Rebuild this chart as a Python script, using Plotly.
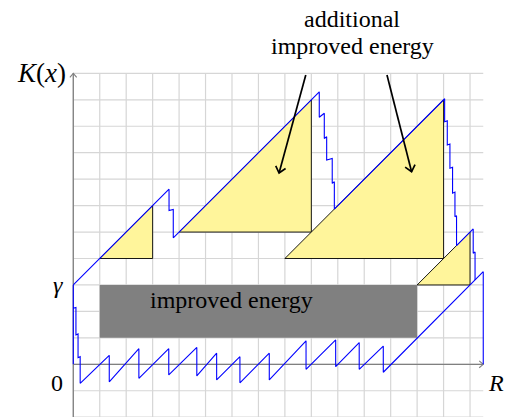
import plotly.graph_objects as go
import numpy as np

# blue curve, upper branch (x, K(x)) in grid units
top_x = [0, 3.62, 3.62, 3.78, 3.78, 9.30, 9.30, 9.49, 9.49, 9.58, 9.58, 9.79, 9.79, 9.87, 9.87,
         14.04, 14.04, 14.14, 14.14, 14.24, 14.24, 14.34, 14.34, 14.43, 14.43, 14.49, 14.49,
         15.12, 15.12, 15.19, 15.19]
top_y = [3, 6.62, 5.81, 5.85, 4.78, 10.30, 9.34, 9.49, 8.54, 8.60, 7.72, 7.78, 6.84, 6.90, 5.87,
         10.04, 9.17, 9.21, 8.29, 8.33, 7.41, 7.45, 6.47, 6.51, 5.58, 5.62, 4.49,
         5.12, 4.20, 4.25, 3.19]

# blue curve, lower branch
low_x = [0, 0, 0, 0.10, 0.10, 0.18, 0.18, 0.26, 0.26, 1.36, 1.36, 2.48, 2.48, 3.61, 3.61,
         4.67, 4.67, 5.42, 5.42, 6.30, 6.30, 7.41, 7.41, 8.80, 8.80, 9.92, 9.92,
         10.81, 10.81, 11.72, 11.72, 15.5, 15.5]
low_y = [0, 3, 2.12, 2.15, 1.11, 1.15, 0.25, 0.29, -0.72, 0.34, -0.66, 0.59, -0.53, 0.59, -0.40,
         0.64, -0.44, 0.42, -0.59, 0.29, -0.70, 0.42, -0.59, 0.89, -0.19, 0.92, -0.09,
         0.82, -0.19, 0.69, -0.30, 3.5, 0]

# yellow triangles (additional improved energy)
triangles = [
    ([1, 3, 3], [4, 4, 6]),
    ([4, 9, 9], [5, 5, 10]),
    ([8, 14, 14], [4, 4, 10]),
    ([13, 15, 15], [3, 3, 5]),
]

# gray box (improved energy)
box_x = [1, 13, 13, 1]
box_y = [1, 1, 3, 3]

# annotation arrows: start -> tip
arrow_start_x = [8.79, 11.86]
arrow_start_y = [10.94, 10.94]
arrow_tip_x = [7.78, 12.79]
arrow_tip_y = [7.23, 7.28]

R = 15.5
gamma = 3
y_top = 11
y_bottom = -2.2

x_range = [-2.771, 16.36]
y_range = [-1.992, 13.773]


def chevron(x0, y0, x1, y1, size, ang=40):
    d = np.array([x1 - x0, y1 - y0], dtype=float)
    d /= np.hypot(*d)
    xs, ys = [], []
    for s in (1, -1):
        a = np.radians(180 + s * ang)
        r = np.array([d[0] * np.cos(a) - d[1] * np.sin(a), d[0] * np.sin(a) + d[1] * np.cos(a)])
        xs.append(x1 + size * r[0])
        ys.append(y1 + size * r[1])
    return [xs[0], x1, xs[1]], [ys[0], y1, ys[1]]


fig = go.Figure()

# help-line grid
gx, gy = [], []
for v in np.arange(0, 16):
    gx += [v, v, None]
    gy += [y_bottom, y_top, None]
for h in np.arange(-2, y_top + 1):
    gx += [0, R, None]
    gy += [h, h, None]
fig.add_trace(go.Scatter(x=gx, y=gy, mode="lines", line=dict(color="#d6d6d6", width=1.2),
                         hoverinfo="skip"))

# axes
fig.add_trace(go.Scatter(x=[0, 0, None, 0, R], y=[y_bottom, y_top, None, 0, 0], mode="lines",
                         line=dict(color="#808080", width=1.3), hoverinfo="skip"))
for (a0, b0, a1, b1) in [(0, 0, 0, y_top), (0, 0, R, 0)]:
    cx, cy = chevron(a0, b0, a1, b1, 0.2)
    fig.add_trace(go.Scatter(x=cx, y=cy, mode="lines", line=dict(color="#808080", width=1.1)))

# improved energy box
fig.add_trace(go.Scatter(x=box_x, y=box_y, fill="toself", fillcolor="#808080",
                         mode="lines", line=dict(width=0), hoverinfo="skip"))

# yellow triangles
for tx, ty in triangles:
    fig.add_trace(go.Scatter(x=tx + [tx[0]], y=ty + [ty[0]], fill="toself", fillcolor="#fff59b",
                             mode="lines", line=dict(color="black", width=0.9)))

# blue curve
fig.add_trace(go.Scatter(x=low_x, y=low_y, mode="lines", line=dict(color="#0000ff", width=1.1)))
fig.add_trace(go.Scatter(x=top_x, y=top_y, mode="lines", line=dict(color="#0000ff", width=1.1)))

# arrows
for i in range(len(arrow_tip_x)):
    fig.add_trace(go.Scatter(x=[arrow_start_x[i], arrow_tip_x[i]], y=[arrow_start_y[i], arrow_tip_y[i]],
                             mode="lines", line=dict(color="black", width=1.7)))
    cx, cy = chevron(arrow_start_x[i], arrow_start_y[i], arrow_tip_x[i], arrow_tip_y[i], 0.3)
    fig.add_trace(go.Scatter(x=cx, y=cy, mode="lines", line=dict(color="black", width=1.7)))

font = dict(family="Liberation Serif, Times New Roman, serif", size=24, color="black")
texts = [
    (6.0, 2.45, "improved energy", "center", 24),
    (10.54, 13.05, "additional", "center", 24),
    (10.54, 12.05, "improved energy", "center", 24),
    (-0.2, 11.0, "<i>K</i>(<i>x</i>)", "right", 27),
    (-0.3, gamma, "<i>γ</i>", "right", 24),
    (-0.62, -0.7, "0", "center", 24),
    (15.62, -0.7, "<i>R</i>", "left", 24),
]
for x, y, t, anc, sz in texts:
    fig.add_annotation(x=x, y=y, text=t, showarrow=False, xanchor=anc, yanchor="middle",
                       font=dict(font, size=sz))

fig.update_layout(
    width=506, height=417, autosize=False,
    margin=dict(l=0, r=0, t=0, b=0),
    showlegend=False,
    plot_bgcolor="white", paper_bgcolor="white",
    xaxis=dict(range=x_range, visible=False, fixedrange=True),
    yaxis=dict(range=y_range, visible=False, fixedrange=True),
)

# drop the browser's default body margin so the figure fills the window
fig.write_html("out.html", config={"displayModeBar": False},
               post_script="document.body.style.margin='0px';")
